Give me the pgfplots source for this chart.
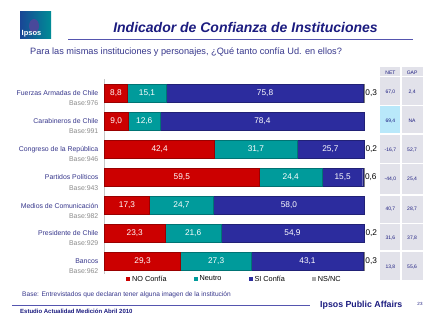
\documentclass[border=0pt]{standalone}
\usepackage{pgfplots}
\usepackage{pgfplotstable}
\pgfplotsset{compat=1.18}
\usepackage{fontspec}
\setmainfont{Liberation Sans}
\definecolor{cred}{RGB}{204,0,0}
\definecolor{cteal}{RGB}{0,155,155}
\definecolor{cblue}{RGB}{44,44,158}
\definecolor{cgray}{RGB}{170,170,170}
\definecolor{navy}{RGB}{28,28,128}
\definecolor{labblue}{RGB}{55,55,140}
\definecolor{basegray}{RGB}{140,140,140}
\definecolor{linec}{RGB}{85,85,175}
\definecolor{panel}{RGB}{226,226,234}
\definecolor{hl}{RGB}{185,232,250}
\newcommand{\fs}[1]{\fontsize{#1}{#1}\selectfont}
\pgfplotstableread{
c no neu si ns
0 8.8 15.1 75.8 0.3
1 9.0 12.6 78.4 0
2 42.4 31.7 25.7 0.2
3 59.5 24.4 15.5 0.6
4 17.3 24.7 58.0 0
5 23.3 21.6 54.9 0.2
6 29.3 27.3 43.1 0.3
}\datatab
\pgfplotsset{
  geom/.style={at={(104.5pt,46.9pt)}, anchor=south west,
    scale only axis, width=259.8pt, height=194.6pt,
    xmin=0, xmax=100, ymin=-0.5, ymax=6.45, y dir=reverse,
    enlargelimits=false, clip=false},
  labplot/.style={only marks, mark=*, mark size=0pt, mark options={draw=none, fill=none}}
}
\begin{document}
\begin{tikzpicture}
\begin{scope}[x=1pt,y=1pt]
\fill[white] (0,0) rectangle (440,321);
\path[use as bounding box] (0,0) rectangle (440,321);
% logo
\shade[left color={rgb,255:red,25;green,70;blue,150}, right color={rgb,255:red,0;green,140;blue,150}] (20,321-39) rectangle (51,321-11.7);
\fill[navy!80] (34,321-26) ellipse (5 and 7);
\node[text=white, font=\bfseries\fs{7.5}, anchor=south west, inner sep=0pt] at (21.5,321-37.5) {Ipsos};
% title
\node[text=navy, font=\bfseries\itshape\fs{14}] at (245.5,321-27.3) {Indicador de Confianza de Instituciones};
\draw[linec, line width=1pt] (68.3,321-40) -- (413.3,321-40);
\node[text=labblue, font=\fs{9.2}, anchor=west, inner sep=0pt] at (30,321-52.3) {Para las mismas instituciones y personajes, ¿Qué tanto confía Ud. en ellos?};
% right panel
\fill[panel] (380,321-67.3) rectangle (423.3,321-280);
\fill[hl] (380,321-105.7) rectangle (400.8,321-134);
\draw[white, line width=1.5pt] (400.8,321-67.3) -- (400.8,321-280);
\foreach \yy in {76.7,105.7,134,163.3,195,223.3,251} \draw[white,line width=1.2pt] (380,321-\yy) -- (423.3,321-\yy);
\node[text=navy, font=\fs{5}] at (390.4,321-72.3) {NET};
\node[text=navy, font=\fs{5}] at (412.1,321-72.3) {GAP};
\foreach \yy/\n/\g in {92/{67,0}/{2,4}, 121/{69,4}/{NA}, 150/{-16,7}/{52,7}, 179/{-44,0}/{25,4}, 209/{40,7}/{28,7}, 238/{31,6}/{37,8}, 267/{13,8}/{55,6}}{
  \node[text=navy, font=\fs{5}] at (390.4,321-\yy) {\n};
  \node[text=navy, font=\fs{5}] at (412.1,321-\yy) {\g};
}
% footer
\node[text=labblue, font=\fs{6.6}, anchor=west, inner sep=0pt] at (22,321-295) {Base: Entrevistados que declaran tener alguna imagen de la institución};
\draw[linec, line width=1pt] (12,321-306) -- (310,321-306);
\node[text=navy, font=\bfseries\fs{6}, anchor=west, inner sep=0pt] at (20,321-311.5) {Estudio Actualidad Medición Abril 2010};
\node[text=navy, font=\bfseries\fs{8.8}, anchor=west, inner sep=0pt] at (320,321-305) {Ipsos Public Affairs};
\node[text=navy, font=\fs{4.5}] at (420,321-304) {23};
\end{scope}
\begin{axis}[
  geom,
  xbar stacked, bar width=18.3pt,
  axis x line=none, axis y line*=left,
  y axis line style={draw=gray!45, line width=0.6pt, -},
  ytick={0,1,2,3,4,5,6}, ytick style={draw=none},
  yticklabels={{Fuerzas Armadas de Chile\\\textcolor{basegray}{Base:976}},
               {Carabineros de Chile\\\textcolor{basegray}{Base:991}},
               {Congreso de la República\\\textcolor{basegray}{Base:946}},
               {Partidos Políticos\\\textcolor{basegray}{Base:943}},
               {Medios de Comunicación\\\textcolor{basegray}{Base:982}},
               {Presidente de Chile\\\textcolor{basegray}{Base:929}},
               {Bancos\\\textcolor{basegray}{Base:962}}},
  yticklabel style={font=\fontsize{6.9}{10}\selectfont, align=right, text=labblue, yshift=-5pt, xshift=-5pt, inner sep=1pt},
  legend style={at={(0.5,-0.026)}, anchor=center, draw=none, fill=none, legend columns=4, font=\fs{7.3}, inner sep=0pt,
    /tikz/every even column/.append style={column sep=25pt}},
  legend image code/.code={\draw[#1, draw=none] (0pt,-2pt) rectangle (4pt,2pt);},
]
\addplot[fill=cred, draw=cred!75!black, line width=0.4pt] table[x=no, y=c] {\datatab};
\addplot[fill=cteal, draw=cteal!75!black, line width=0.4pt] table[x=neu, y=c] {\datatab};
\addplot[fill=cblue, draw=cblue!75!black, line width=0.4pt] table[x=si, y=c] {\datatab};
\addplot[fill=cgray, draw=cgray!75!black, line width=0.4pt, point meta=rawx,
  nodes near coords={\pgfmathfloatifflags{\pgfplotspointmeta}{0}{}{\pgfmathprintnumber[fixed,fixed zerofill,precision=1,use comma,assume math mode=true]{\pgfplotspointmeta}}},
  every node near coord/.style={font=\fs{8.3}, text=black, anchor=west, xshift=-2pt}]
  table[x=ns, y=c] {\datatab};
\legend{NO Confía, Neutro, SI Confía, NS/NC}
\end{axis}
% value labels centred in each segment
\begin{axis}[
  geom, axis lines=none, ticks=none,
  nodes near coords={\pgfmathprintnumber[fixed,fixed zerofill,precision=1,use comma,assume math mode=true]{\pgfplotspointmeta}},
  every node near coord/.style={font=\fs{8.3}, text=white, anchor=center},
]
\addplot[labplot, point meta=\thisrow{no}] table[x expr=\thisrow{no}/2, y=c] {\datatab};
\addplot[labplot, point meta=\thisrow{neu}] table[x expr=\thisrow{no}+\thisrow{neu}/2, y=c] {\datatab};
\addplot[labplot, point meta=\thisrow{si}] table[x expr=\thisrow{no}+\thisrow{neu}+\thisrow{si}/2, y=c] {\datatab};
\end{axis}
\end{tikzpicture}
\end{document}
